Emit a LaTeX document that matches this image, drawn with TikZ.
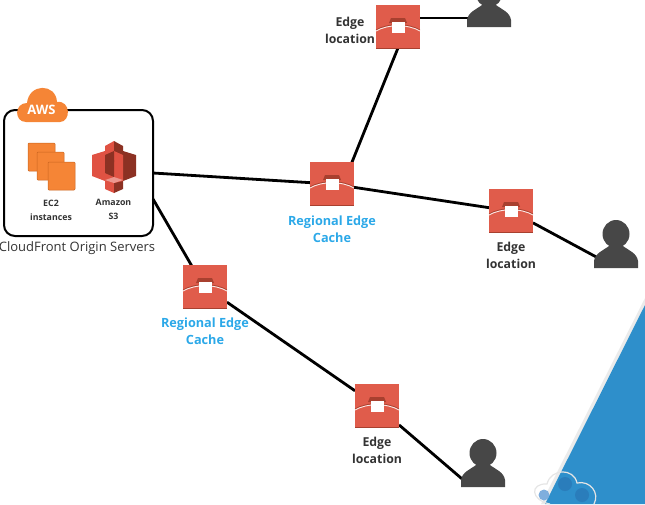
\documentclass[tikz,border=0pt]{standalone}
\usepackage{fontspec}
\setmainfont{Open Sans}
\usetikzlibrary{calc,backgrounds}
\definecolor{edgered}{HTML}{E05C4B}
\definecolor{edgedark}{HTML}{A8402F}
\definecolor{awsorange}{HTML}{F58536}
\definecolor{awsdark}{HTML}{C8641F}
\definecolor{sred}{HTML}{E05243}
\definecolor{sdark}{HTML}{8C3123}
\definecolor{personc}{HTML}{474747}
\definecolor{blueT}{HTML}{2E8FCB}
\definecolor{blueD}{HTML}{2A7DBB}
\definecolor{blueL}{HTML}{7FAEDD}
\definecolor{cyanT}{HTML}{2BA8E8}
\tikzset{
 x=1pt,y=-1pt,
 link/.style={draw=black,line width=2.8pt},
 iconbox/.style={fill=edgered,minimum size=44pt,inner sep=0pt,outer sep=0pt},
 lbl/.style={font=\fontsize{12.3}{16.8}\selectfont\bfseries,text=black!80,align=center,inner sep=0pt},
 blbl/.style={font=\fontsize{12.7}{16.8}\selectfont\bfseries,text=cyanT,align=center,inner sep=0pt},
 smalltxt/.style={font=\fontsize{8.8}{14}\selectfont\bfseries,text=black!80,align=center,inner sep=0pt},
 ec2sq/.style={fill=awsorange,draw=awsdark,line width=.5pt,rounded corners=1pt}
}
\newcommand\edgeicon[2]{%
 \node[iconbox] (#1) at (#2) {};
 \fill[edgedark] ($(#1.south west)+(0,-1.5)$) rectangle (#1.south east);
 \draw[edgedark,line width=.9pt] ($(#1.center)+(-22,3)$) .. controls ($(#1.center)+(-10,-4)$) and ($(#1.center)+(10,-4)$) .. ($(#1.center)+(22,3)$);
 \draw[white!85!edgered,line width=.9pt] ($(#1.center)+(-22,4)$) .. controls ($(#1.center)+(-10,-3)$) and ($(#1.center)+(10,-3)$) .. ($(#1.center)+(22,4)$);
 \fill[edgedark] ($(#1.center)+(-7,-9)$) -- ($(#1.center)+(7,-9)$) -- ($(#1.center)+(9,-4)$) -- ($(#1.center)+(-9,-4)$) -- cycle;
 \fill[white] ($(#1.center)+(-6.5,-5)$) rectangle ($(#1.center)+(6.5,6)$);
}
\newcommand\personicon[2]{%
 \coordinate (#1) at (#2);
 \fill[personc] ($(#1)+(0,12)$) circle[x radius=13.5,y radius=14];
 \fill[personc] ($(#1)+(-22,46)$) -- ($(#1)+(-22,39)$) .. controls ($(#1)+(-21,31)$) and ($(#1)+(-12,28)$) .. ($(#1)+(-7,24)$) -- ($(#1)+(7,24)$) .. controls ($(#1)+(12,28)$) and ($(#1)+(21,31)$) .. ($(#1)+(22,39)$) -- ($(#1)+(22,46)$) -- cycle;
}
\begin{document}
\begin{tikzpicture}
\useasboundingbox (0,0) rectangle (645,504);
\clip (0,0) rectangle (645,504);
% blue wedge
\fill[black!8] (645,298) -- (541,504) -- (545,504) -- (645,305) -- cycle;
\fill[blueT] (645,305) -- (545,504) -- (645,504) -- cycle;
% corner cloud
\draw[black!10,line width=1.2pt] (550,504) .. controls (530,500) and (530,483) .. (547,484) .. controls (551,468) and (574,468) .. (577,483) .. controls (590,480) and (600,493) .. (594,504);
\fill[blueL] (544,495) circle (5.5);
\fill[blueD] (565,484) circle (7);
\fill[blueD] (582,495) circle (7);
% box
\node[draw=black,line width=2pt,rounded corners=11pt,minimum width=149pt,minimum height=126pt,inner sep=0pt,outer sep=0pt] (box) at (78.5,173) {};
\coordinate (boxlow) at (153,199);
\edgeicon{top}{398,27}
\edgeicon{regone}{332,184}
\edgeicon{right}{511,211}
\edgeicon{regtwo}{205,287}
\edgeicon{bottom}{377,406}
\personicon{ptop}{489,-19}
\personicon{pright}{616,222}
\personicon{pbottom}{483,441}
\coordinate (ptopc) at (470,18);
\coordinate (topleft) at (398,18);
\coordinate (topdown) at (402,38);
\coordinate (prightc) at (600,259);
\coordinate (pbottomc) at (468,484);
\coordinate (regup) at (346,177);
\coordinate (regtwoin) at (193,268);
\begin{pgfonlayer}{background}
\path[link] (box.east) -- (regone);
\path[link] (regone) -- (right);
\path[link] (regup) -- (topdown);
\path[link] (boxlow) -- (regtwoin);
\path[link] (regtwo) -- (bottom);
\path[link] (topleft) -- (ptopc);
\path[link] (right) -- (prightc);
\path[link] (bottom) -- (pbottomc);
\end{pgfonlayer}
% AWS cloud
\fill[awsorange] (26,122) .. controls (14,122) and (14,103) .. (27,103) .. controls (29,83) and (56,83) .. (57,102) .. controls (71,100) and (71,122) .. (60,122) -- cycle;
\node[font=\fontsize{13}{13}\selectfont\bfseries,text=white,inner sep=0pt] (aws) at (41.5,110) {AWS};
% EC2
\fill[ec2sq] (28,143) rectangle (55,171);
\fill[ec2sq] (37,152) rectangle (64,180);
\fill[ec2sq] (48,162) rectangle (75,190);
% S3
\fill[sred] (92,155) -- (105,151) -- (105,146) -- (114,141) -- (114,193) -- (105,189) -- (105,181) -- (92,176) -- cycle;
\fill[sdark] (136,155) -- (123,151) -- (123,146) -- (114,141) -- (114,193) -- (123,189) -- (123,181) -- (136,176) -- cycle;
\fill[sred] (123,155) -- (114,151) -- (114,183) -- (123,181) -- cycle;
\fill[sdark] (105,155) -- (114,151) -- (114,162) -- (105,165) -- cycle;
\fill[sdark] (105,165) -- (114,160) -- (114,177) -- (105,173) -- cycle;
\fill[sred!60!white] (105,180) -- (114,177) -- (123,180) -- (114,183) -- cycle;
% texts
\node[smalltxt] (ec2t) at (51,210) {EC2\\instances};
\node[smalltxt] (s3t) at (113.5,209) {Amazon\\S3};
\node[font=\fontsize{13}{14}\selectfont,text=black!80,inner sep=0pt] (cf) at (77,248) {CloudFront Origin Servers};
\node[lbl] (t1) at (350,30) {Edge\\location};
\node[lbl] (t2) at (511,255) {Edge\\location};
\node[lbl] (t3) at (377,450) {Edge\\location};
\node[blbl] (t4) at (332,229) {Regional Edge\\Cache};
\node[blbl] (t5) at (205,331) {Regional Edge\\Cache};
\end{tikzpicture}
\end{document}
